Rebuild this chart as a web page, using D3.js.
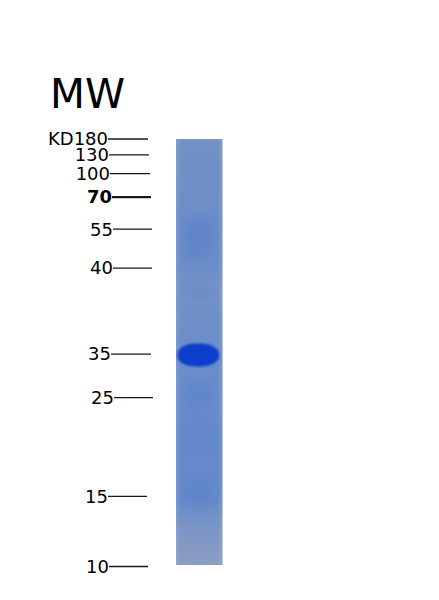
<!DOCTYPE html>
<html><head><meta charset="utf-8">
<script src="https://cdn.jsdelivr.net/npm/d3@7"></script>
<style>html,body{margin:0;padding:0;background:#fff}svg{display:block}text{font-family:"DejaVu Sans",sans-serif;fill:#000}</style>
</head><body><svg id="c" width="439" height="600"></svg>
<script>
// data: marker sizes (kD), their migration along the gel (0 = well, 1 = end of run)
const markers = ["180","130","100","70","55","40","35","25","15","10"];
const migration = [0,0.037,0.081,0.136,0.211,0.302,0.503,0.605,0.836,1];
const emphasized = ["70"];
// lane staining profile
const profilePos = [0,0.008,0.05,0.14,0.2,0.3,0.34,0.5,0.62,0.72,0.85,0.93,1];
const profileCol = ["#7f99c6","#7391c5","#7190c5","#6f8ec6","#6a8cc9","#6c8dc8","#7392c6","#6b8dca","#6a8ccb","#6488cb","#678acb","#7f97c5","#8b9dc2"];
// faint stained bands: migration position, relative thickness, opacity
const bandPos = [0.235,0.355,0.6,0.68,0.83];
const bandSpread = [0.05,0.012,0.035,0.02,0.03];
const bandOpacity = [0.14,0.1,0.12,0.05,0.1];
// main protein band
const mainBand = [0.507];
const mainThickness = [0.054];

const W = {x0:176,x1:222.5,y0:139,y1:565};
const svg = d3.select("#c");
const y = d3.scaleLinear().domain([0,1]).range([W.y0,566.5]);
const laneY = d3.scaleLinear().domain([0,1]).range([W.y0,W.y1]);
const x = d3.scaleLinear().domain([0,1]).range([W.x0,W.x1]);
// per-label drift of the hand-placed ticks
const tickEnd = d3.scaleOrdinal().domain(markers).range([148,149,150,151,152,152,151,153,147,148]);
const tickStart = d3.scaleOrdinal().domain(markers).range([108,109,110,112,113,113,111,114,108,109]);

const defs = svg.append("defs");
const lg = defs.append("linearGradient").attr("id","lane").attr("x1",0).attr("x2",0).attr("y1",0).attr("y2",1);
lg.selectAll("stop").data(profilePos).join("stop").attr("offset",d=>d).attr("stop-color",(d,i)=>profileCol[i]);
const eg = defs.append("linearGradient").attr("id","edge");
eg.selectAll("stop").data([[0,0.2],[0.1,0],[0.9,0],[1,0.18]]).join("stop")
  .attr("offset",d=>d[0]).attr("stop-color","#c4d0e6").attr("stop-opacity",d=>d[1]);
defs.append("filter").attr("id","b6").attr("x","-50%").attr("y","-50%").attr("width","200%").attr("height","200%")
  .append("feGaussianBlur").attr("stdDeviation",4);
defs.append("filter").attr("id","b2").attr("x","-30%").attr("y","-60%").attr("width","160%").attr("height","220%")
  .append("feGaussianBlur").attr("stdDeviation",1.2);
defs.append("clipPath").attr("id","lc").append("rect")
  .attr("x",W.x0).attr("y",W.y0).attr("width",W.x1-W.x0).attr("height",W.y1-W.y0);

svg.append("text").attr("x",50).attr("y",107.5).attr("font-size",40.5).text("MW");

const lane = svg.append("g");
lane.append("rect").attr("x",W.x0).attr("y",W.y0).attr("width",W.x1-W.x0).attr("height",W.y1-W.y0).attr("fill","url(#lane)");
const bands = lane.append("g").attr("clip-path","url(#lc)");
bands.selectAll("ellipse").data(bandPos).join("ellipse")
  .attr("cx",x(0.48))
  .attr("cy",d=>laneY(d))
  .attr("rx",x(0.32)-x(0))
  .attr("ry",(d,i)=>laneY(bandSpread[i])-laneY(0))
  .attr("fill","#2f5fcf")
  .attr("opacity",(d,i)=>bandOpacity[i])
  .attr("filter","url(#b6)");
bands.selectAll("rect").data(mainBand).join("rect")
  .attr("x",x(0.02)).attr("width",x(0.93)-x(0.02))
  .attr("y",(d,i)=>laneY(d-mainThickness[i]/2))
  .attr("height",(d,i)=>laneY(mainThickness[i])-laneY(0))
  .attr("rx",19).attr("ry",11)
  .attr("fill","#0a3ecc")
  .attr("filter","url(#b2)");
lane.append("rect").attr("x",W.x0).attr("y",W.y0).attr("width",W.x1-W.x0).attr("height",W.y1-W.y0).attr("fill","url(#edge)");

const g = svg.append("g");
g.selectAll("line").data(markers).join("line")
  .attr("x1",d=>tickStart(d)).attr("x2",d=>tickEnd(d))
  .attr("y1",(d,i)=>y(migration[i])).attr("y2",(d,i)=>y(migration[i]))
  .attr("stroke","#1a1a1a")
  .attr("stroke-width",d=>emphasized.includes(d)?2.4:1.3);
g.selectAll("text").data(markers).join("text")
  .attr("x",d=>tickStart(d)).attr("y",(d,i)=>y(migration[i])+6.3)
  .attr("text-anchor","end").attr("font-size",18)
  .attr("font-weight",d=>emphasized.includes(d)?"bold":"normal")
  .text(d=>d);
svg.append("text").attr("x",48).attr("y",y(0)+6.3).attr("font-size",18).text("KD");
</script></body></html>
